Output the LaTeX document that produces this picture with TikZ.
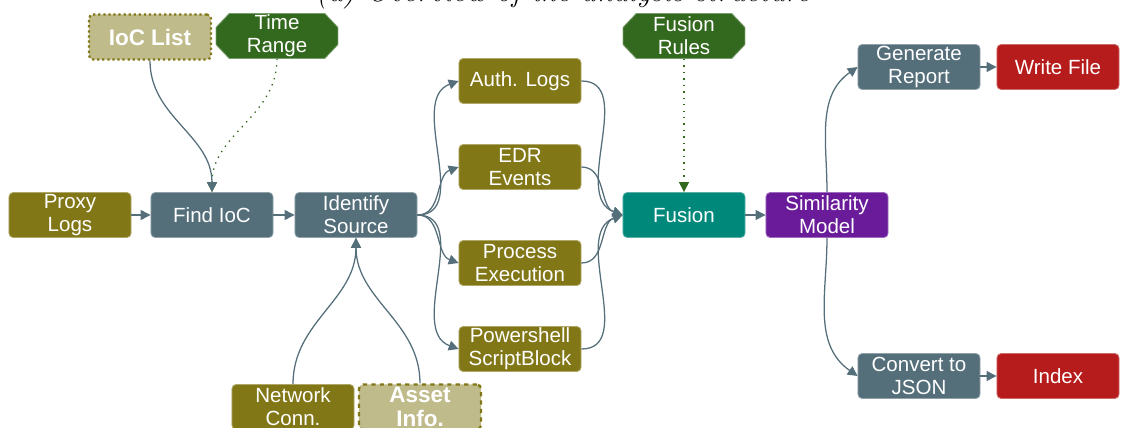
\documentclass[tikz,border=0pt]{standalone}
\usepackage{fontspec}
\setsansfont{Liberation Sans}
\usetikzlibrary{arrows.meta}
\definecolor{srccol}{HTML}{827717}
\definecolor{stepcol}{HTML}{546E7A}
\definecolor{fusecol}{HTML}{00897B}
\definecolor{modelcol}{HTML}{6A1B9A}
\definecolor{outcol}{HTML}{B71C1C}
\definecolor{rulecol}{HTML}{33691E}

\begin{document}
\begin{tikzpicture}[x=0.025cm, y=-0.025cm,
		every node/.style={minimum width=3.05cm, minimum height=1.125cm, inner sep=1pt, align=center, text=white, font=\sffamily\fontsize{14.6}{16.4}\selectfont},
		box/.style={rectangle, rounded corners=3pt, fill=#1, draw=#1!65!white, line width=0.6pt},
		src/.style={box=srccol},
		stepbox/.style={box=stepcol},
		ctx/.style={rectangle, rounded corners=3pt, fill=srccol!50, draw=srccol, line width=1.6pt, font=\sffamily\bfseries\fontsize{16}{17}\selectfont},
		rule/.style={rectangle, fill=white, path picture={
				\fill[rulecol, draw=rulecol!65!white, line width=0.6pt]
					([xshift=0.33cm]path picture bounding box.north west) -- ([xshift=-0.33cm]path picture bounding box.north east)
					-- ([yshift=-0.35cm]path picture bounding box.north east) -- ([yshift=0.35cm]path picture bounding box.south east)
					-- ([xshift=-0.33cm]path picture bounding box.south east) -- ([xshift=0.33cm]path picture bounding box.south west)
					-- ([yshift=0.35cm]path picture bounding box.south west) -- ([yshift=-0.35cm]path picture bounding box.north west) -- cycle;
			}},
		link/.style={draw=stepcol, line width=0.9pt, -{Triangle[length=7pt,width=7pt]}},
		hint/.style={draw=rulecol, line width=0.9pt, dash pattern=on 1pt off 3.6pt, -{Triangle[length=7pt,width=7pt]}}
	]
	\useasboundingbox (0,0) rectangle (1121,428);

	% caption cut by the frame
	\node[minimum width=0pt, minimum height=0pt, text=black, font=\fontsize{21.7}{26}\selectfont\itshape, anchor=base] (cap) at (563,1) {(a) Overview of the analysis structure};

	\node[ctx, dotted] (ioc) at (150,37) {IoC List};
	\node[rule] (time) at (277,36) {Time\\Range};
	\node[src] (proxy) at (70,215) {Proxy\\Logs};
	\node[stepbox] (find) at (212,215) {Find IoC};
	\node[stepbox] (ident) at (356,215) {Identify\\Source};
	\node[src] (net) at (293,407) {Network\\Conn.};
	\node[ctx, dashed] (asset) at (420,407) {Asset\\Info.};

	\node[src] (auth) at (520,81) {Auth. Logs};
	\node[src] (edr) at (520,167) {EDR\\Events};
	\node[src] (proc) at (520,263) {Process\\Execution};
	\node[src] (psh) at (520,349) {Powershell\\ScriptBlock};

	\node[rule] (frules) at (684,36) {Fusion\\Rules};
	\node[box=fusecol] (fusion) at (684,215) {Fusion};
	\node[box=modelcol] (sim) at (827,215) {Similarity\\Model};
	\node[stepbox] (report) at (919,67) {Generate\\Report};
	\node[box=outcol] (write) at (1058,67) {Write File};
	\node[stepbox] (json) at (919,376) {Convert to\\JSON};
	\node[box=outcol] (index) at (1058,376) {Index};

	\draw[hint] (time.south) to[out=-90, in=90] (find.north);
	\draw[link] (ioc.south) to[out=-90, in=90] (find.north);
	\draw[link] (proxy) -- (find);
	\draw[link] (find) -- (ident);
	\draw[link] (net.north) to[out=90, in=-90] (ident.south);
	\draw[link] (asset.north) to[out=90, in=-90] (ident.south);

	\draw[link] (ident.east) to[out=0, in=200] (auth.west);
	\draw[link] (ident.east) to[out=0, in=200] (edr.west);
	\draw[link] (ident.east) to[out=0, in=160] (proc.west);
	\draw[link] (ident.east) to[out=0, in=160] (psh.west);

	\draw[link] (auth.east) to[out=0, in=160] (fusion.west);
	\draw[link] (edr.east) to[out=0, in=160] (fusion.west);
	\draw[link] (proc.east) to[out=0, in=200] (fusion.west);
	\draw[link] (psh.east) to[out=0, in=200] (fusion.west);

	\draw[hint] (frules) -- (fusion);
	\draw[link] (fusion) -- (sim);
	\draw[link] (sim.north) to[out=90, in=215] (report.west);
	\draw[link] (sim.south) to[out=-90, in=145] (json.west);
	\draw[link] (report) -- (write);
	\draw[link] (json) -- (index);
\end{tikzpicture}
\end{document}
